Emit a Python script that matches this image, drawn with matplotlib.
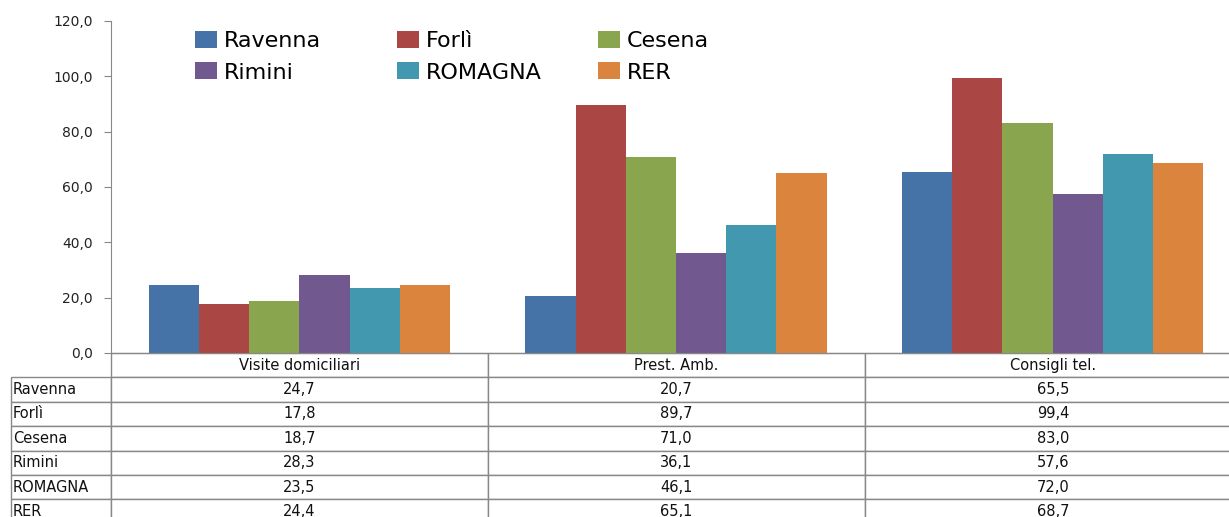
import numpy as np
import matplotlib.pyplot as plt
from matplotlib.ticker import FuncFormatter

# Categories and series
categories = ['Visite domiciliari', 'Prest. Amb.', 'Consigli tel.']
series = ['Ravenna', 'Forlì', 'Cesena', 'Rimini', 'ROMAGNA', 'RER']
ravenna = [24.7, 20.7, 65.5]
forli = [17.8, 89.7, 99.4]
cesena = [18.7, 71.0, 83.0]
rimini = [28.3, 36.1, 57.6]
romagna = [23.5, 46.1, 72.0]
rer = [24.4, 65.1, 68.7]
values = [ravenna, forli, cesena, rimini, romagna, rer]
colors = ['#4572A7', '#AA4643', '#89A54E', '#71588F', '#4198AF', '#DB843D']

plt.rcParams['font.family'] = ['DejaVu Sans']

W, H = 1229, 517
fig = plt.figure(figsize=(W / 100, H / 100), dpi=100)
ax_w = 1130
ax = fig.add_axes([111 / W, 1 - 353 / H, ax_w / W, 332 / H])

x = np.arange(len(categories))
w = 0.8 / len(series)
bars = []
for i, (name, vals) in enumerate(zip(series, values)):
    b = ax.bar(x + (i - 2.5) * w, vals, w, color=colors[i], label=name, zorder=2)
    bars.append(b)

ax.set_xlim(-0.5, 2.5)
ax.set_ylim(0, 120)
ax.set_yticks(np.arange(0, 121, 20))
ax.yaxis.set_major_formatter(FuncFormatter(lambda v, p: f'{v:.1f}'.replace('.', ',')))
ax.tick_params(axis='y', length=5, color='#888888', labelsize=10, labelcolor='#222222', pad=8)
ax.set_xticks([])
for s in ['top', 'right']:
    ax.spines[s].set_visible(False)
ax.spines['left'].set_color('#888888')
ax.spines['bottom'].set_color('#888888')

# legend: three columns, row-major order like the original
col_x = [195, 397, 598]
for k in range(3):
    fig.legend([bars[k], bars[k + 3]], [series[k], series[k + 3]],
               loc='upper left', bbox_to_anchor=(col_x[k] / W, 1 - 31 / H),
               frameon=False, fontsize=16, borderpad=0, borderaxespad=0,
               handlelength=1.0, handleheight=0.8, handletextpad=0.3,
               labelspacing=0.5)

# data table
cell_text = [[name] + [f'{v:.1f}'.replace('.', ',') for v in vals] for name, vals in zip(series, values)]
tw = 100 / ax_w
rh = 24.4 / 332
tbl = ax.table(cellText=cell_text, colLabels=[''] + categories,
               colWidths=[100, 377, 377, 376], cellLoc='center',
               bbox=[-tw, -7 * rh, 1 + tw, 7 * rh])
tbl.auto_set_font_size(False)
tbl.set_fontsize(10.5)
for (r, c), cell in tbl.get_celld().items():
    cell.set_edgecolor('#888888')
    cell.set_linewidth(1)
    cell.get_text().set_color('#111111')
    if c == 0:
        cell._loc = 'left'
        cell.get_text().set_ha('left')
        cell.PAD = 0.02
tbl[0, 0].visible_edges = ''

fig.savefig('out.png', dpi=100)
